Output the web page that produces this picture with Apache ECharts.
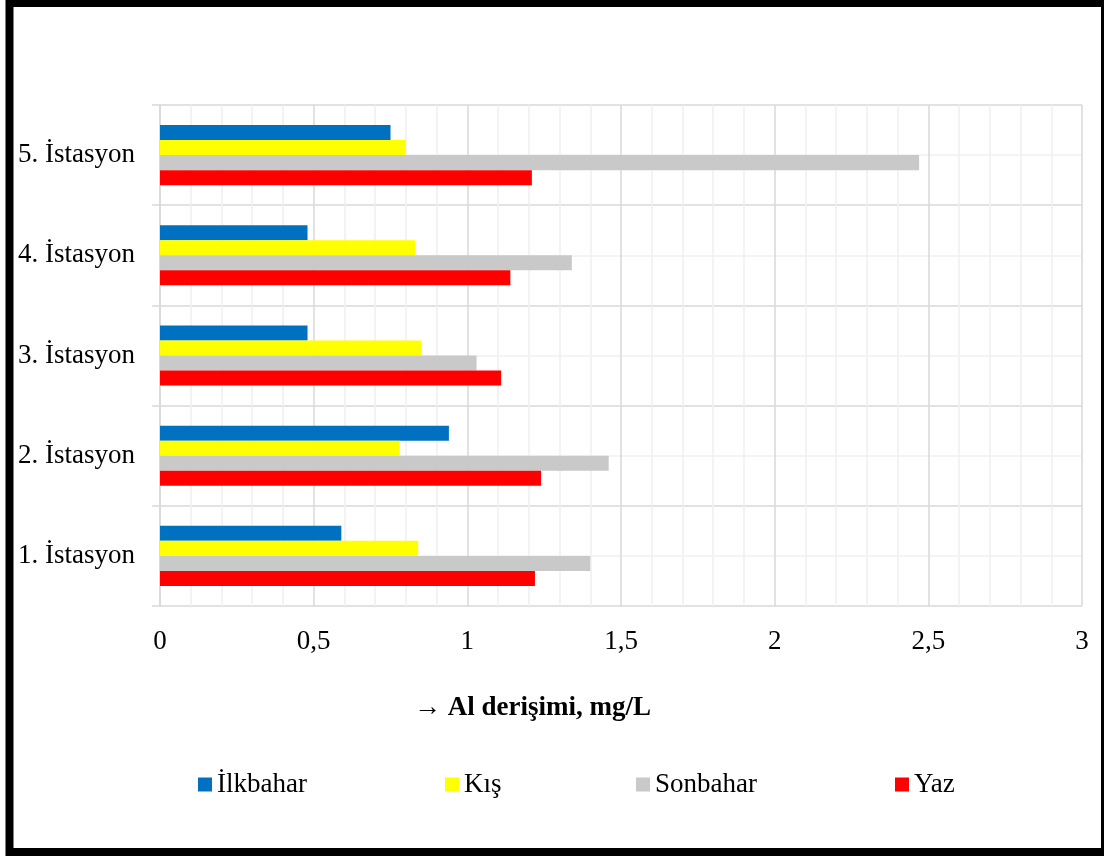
<!DOCTYPE html>
<html>
<head>
<meta charset="utf-8">
<script src="https://cdn.jsdelivr.net/npm/echarts@6/dist/echarts.min.js"></script>
<style>
  html, body { margin: 0; padding: 0; background: #fff; }
  #chart { width: 1104px; height: 857px; }
</style>
</head>
<body>
<div id="chart"></div>
<script>
// Stations (bottom to top on the category axis)
const categories = ['1. İstasyon', '2. İstasyon', '3. İstasyon', '4. İstasyon', '5. İstasyon'];

// Seasonal Al concentration, mg/L
const seriesNames = ['İlkbahar', 'Kış', 'Sonbahar', 'Yaz'];
const ilkbahar = [0.59, 0.94, 0.48, 0.48, 0.75];
const kis      = [0.84, 0.78, 0.85, 0.83, 0.80];
const sonbahar = [1.40, 1.46, 1.03, 1.34, 2.47];
const yaz      = [1.22, 1.24, 1.11, 1.14, 1.21];

const axisTitle = '→ Al derişimi, mg/L';
const xMin = 0, xMax = 3, xStep = 0.5;

const FONT = '"Liberation Serif", "Times New Roman", serif';
const colors = ['#0070C0', '#FFFF00', '#C9C9C9', '#FF0000'];
const values = [ilkbahar, kis, sonbahar, yaz];

// one legend block per season, placed individually
const legendLeft = [193, 440, 631, 890];
const legends = seriesNames.map((name, i) => ({
  data: [name],
  left: legendLeft[i],
  top: 766,
  orient: 'horizontal',
  itemWidth: 14,
  itemHeight: 14,
  itemGap: 0,
  icon: 'rect',
  selectedMode: false,
  textStyle: { fontFamily: FONT, fontSize: 27, color: '#000', padding: [0, 0, 0, 0] }
}));

const chart = echarts.init(document.getElementById('chart'), null, { renderer: 'canvas' });

chart.setOption({
  backgroundColor: '#fff',
  animation: false,
  grid: { left: 160, top: 105, width: 922, height: 501, containLabel: false },
  legend: legends,
  xAxis: {
    type: 'value',
    min: xMin,
    max: xMax,
    interval: xStep,
    axisLine: { show: false },
    axisTick: { show: false },
    axisLabel: {
      margin: 22,
      fontFamily: FONT,
      fontSize: 27,
      color: '#000',
      formatter: v => String(v).replace('.', ',')
    },
    splitLine: { show: true, lineStyle: { color: '#d9d9d9', width: 1.5 } },
    minorTick: { show: false, splitNumber: 5 },
    minorSplitLine: { show: true, lineStyle: { color: '#f0f0f0', width: 1.5 } }
  },
  yAxis: [
    {
      type: 'category',
      data: categories,
      axisLine: { show: true, lineStyle: { color: '#d9d9d9', width: 1.5 } },
      axisTick: { show: true, length: 8, lineStyle: { color: '#d9d9d9', width: 1.5 } },
      axisLabel: { margin: 25, fontFamily: FONT, fontSize: 27, color: '#000' },
      splitLine: { show: false }
    },
    {
      // hidden helper axis: band boundaries and band centre lines
      type: 'value',
      position: 'right',
      min: 0,
      max: 10,
      interval: 1,
      axisLine: { show: false },
      axisTick: { show: false },
      axisLabel: { show: false },
      splitLine: { show: true, lineStyle: { color: ['#d9d9d9', '#f0f0f0'], width: 1.5 } }
    }
  ],
  series: seriesNames.map((name, i) => ({
    name: name,
    type: 'bar',
    yAxisIndex: 0,
    data: values[i],
    barGap: '0%',
    barCategoryGap: '40%',
    itemStyle: { color: colors[i] }
  })),
  graphic: [
    {
      type: 'text',
      left: 414,
      top: 695,
      style: {
        text: axisTitle,
        font: 'bold 27px ' + FONT,
        fill: '#000'
      }
    },
    {
      type: 'rect',
      shape: { x: 9.5, y: 3, width: 1095.5, height: 849 },
      style: { fill: 'none', stroke: '#000', lineWidth: 8 },
      silent: true,
      z: 100
    }
  ]
});
</script>
</body>
</html>
